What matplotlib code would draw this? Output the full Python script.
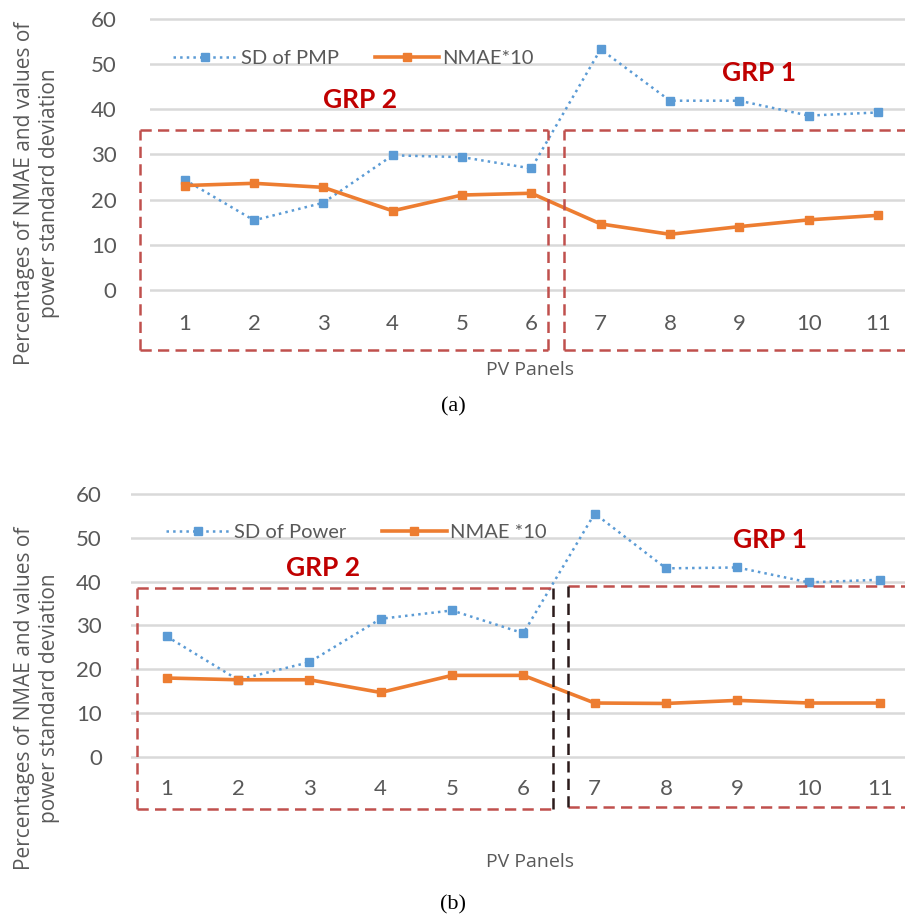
"""Two-panel chart: SD vs NMAE*10 per PV panel, groups boxed."""

import numpy as np
import matplotlib.pyplot as plt

panels = list(range(1, 12))
panel_labels = [str(p) for p in panels]

# panel (a)
sd_pmp = [24.4, 15.4, 19.3, 29.8, 29.4, 26.9, 53.3, 41.9, 41.9, 38.6, 39.3]
nmae_a = [23.1, 23.6, 22.7, 17.5, 21.0, 21.4, 14.6, 12.3, 14.0, 15.5, 16.5]

# panel (b)
sd_power = [27.5, 17.6, 21.6, 31.5, 33.4, 28.2, 55.5, 43.0, 43.2, 39.8, 40.4]
nmae_b = [18.0, 17.6, 17.6, 14.7, 18.6, 18.6, 12.3, 12.2, 12.9, 12.3, 12.3]

BLUE = "#5B9BD5"
ORANGE = "#ED7D31"
GRID = "#D9D9D9"
TXT = "#595959"
BOX = "#C0504D"
GRP = "#C00000"

W, H = 905, 924
plt.rcParams['font.family'] = ['Lato', 'DejaVu Sans']

fig = plt.figure(figsize=(W / 100, H / 100), dpi=100)


def px_axes(left, top, bottom):
    return fig.add_axes([left / W, 1 - bottom / H, (W - left) / W, (bottom - top) / H])


def dashed_box(ax, x0, x1, y0, y1, side_col):
    kw = dict(ls=(0, (4.5, 2.5)), lw=1.8, clip_on=False, zorder=4)
    ax.plot([x0, x1], [y1, y1], color=BOX, **kw)
    ax.plot([x0, x1], [y0, y0], color=BOX, **kw)
    ax.plot([x0, x0], [y0, y1], color=side_col[0], **kw)
    ax.plot([x1, x1], [y0, y1], color=side_col[1], **kw)


def panel(ax, sd, nmae, sd_name, nmae_name, xmax, ylo, lab_y, pad,
          box2, box1, grp2, grp1, leg_xy, inner_col):
    ax.set_xlim(0.5, xmax)
    ax.set_ylim(ylo, 62)
    ax.set_yticks(range(0, 61, 10))
    ax.set_xticks([])
    ax.tick_params(axis='y', length=0, pad=pad, labelsize=16, labelcolor=TXT)
    for s in ax.spines.values():
        s.set_visible(False)
    for v in range(0, 61, 10):
        ax.axhline(v, color=GRID, lw=1.8, zorder=0)

    ax.plot(panels, sd, ls=':', lw=1.8, color=BLUE, marker='s', ms=5.5,
            label=sd_name, zorder=3)
    ax.plot(panels, nmae, ls='-', lw=2.6, color=ORANGE, marker='s', ms=5.5,
            label=nmae_name, zorder=3)

    for p, t in zip(panels, panel_labels):
        ax.text(p, lab_y, t, ha='center', va='center', fontsize=16, color=TXT)

    dashed_box(ax, *box2, side_col=(BOX, inner_col))
    dashed_box(ax, *box1, side_col=(inner_col, BOX))

    ax.text(*grp2, "GRP 2", color=GRP, fontsize=19, fontweight='bold',
            ha='center', va='center')
    ax.text(*grp1, "GRP 1", color=GRP, fontsize=19, fontweight='bold',
            ha='center', va='center')

    leg = ax.legend(loc='center left', bbox_to_anchor=leg_xy, ncol=2, frameon=False,
                    fontsize=14.5, handlelength=3.2, columnspacing=1.8,
                    handletextpad=0.15, borderaxespad=0)
    for t in leg.get_texts():
        t.set_color(TXT)


ax1 = px_axes(150, 10, 353)
panel(ax1, sd_pmp, nmae_a, "SD of PMP", "NMAE*10", 11.39, -14, -7.6, 24,
      (0.35, 6.24, -13.3, 35.4), (6.47, 11.6, -13.3, 35.4),
      (3.53, 42), (9.28, 48), (0.02, 0.86), BOX)

ax2 = px_axes(131, 485, 814)
panel(ax2, sd_power, nmae_b, "SD of Power", "NMAE *10", 11.35, -13, -7.2, 21,
      (0.59, 6.41, -11.8, 38.5), (6.62, 11.6, -11.4, 38.9),
      (3.19, 43), (9.46, 49.5), (0.035, 0.855), "#2B1A1A")

for cy in (193, 698):
    fig.text(37 / W, 1 - cy / H,
             "Percentages of NMAE and values of\npower standard deviation",
             rotation=90, ha='center', va='center', fontsize=15, color=TXT,
             family=['Open Sans', 'DejaVu Sans'], linespacing=1.2)

for cy in (370, 862):
    fig.text(530 / W, 1 - cy / H, "PV Panels", ha='center', va='center',
             fontsize=14, color=TXT, family=['Open Sans', 'DejaVu Sans'])

for cy, cap in ((407, "(a)"), (905, "(b)")):
    fig.text(453 / W, 1 - cy / H, cap, ha='center', va='center', fontsize=16,
             color='black', family=['Liberation Serif', 'DejaVu Serif'])

fig.savefig("out.png", dpi=100)
